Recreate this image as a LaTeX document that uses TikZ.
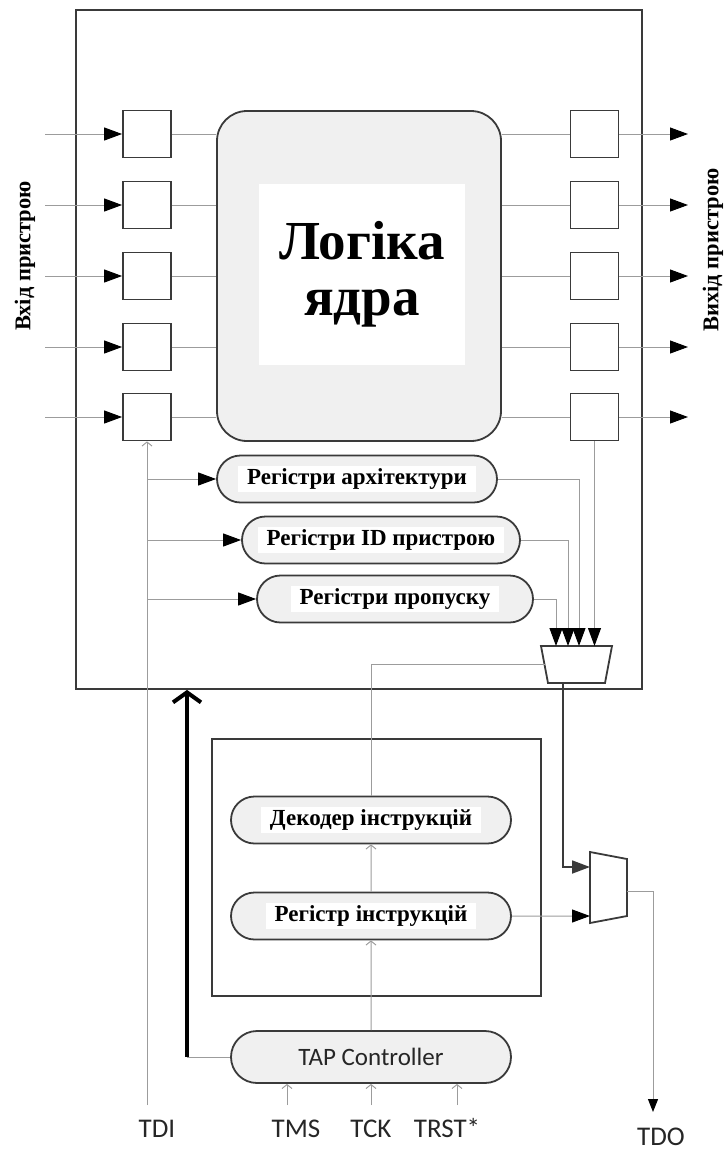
\documentclass[tikz,border=0pt]{standalone}
\usepackage{fontspec}
\setmainfont{Liberation Serif}
\newfontfamily\calfont{Carlito}
\usetikzlibrary{arrows.meta,shapes.misc}
\definecolor{edge}{HTML}{3A3A3A}
\definecolor{wiregray}{HTML}{9C9C9C}
\definecolor{fillgray}{HTML}{F0F0F0}
\setlength{\fboxsep}{3pt}
\newcommand{\whitelbl}[1]{\colorbox{white}{\hspace{6pt}#1\hspace{6pt}}}

\begin{document}
\begin{tikzpicture}[x=1pt, y=-1pt,
    box/.style={draw=edge, line width=1.8pt},
    cell/.style={box, fill=white, minimum width=48pt, minimum height=47pt, inner sep=0pt},
    pill/.style={box, rounded rectangle, fill=fillgray, minimum height=47pt, inner sep=0pt,
        font=\bfseries\fontsize{23}{26}\selectfont},
    wire/.style={draw=wiregray, line width=1pt},
    feed/.style={wire, -{Triangle[length=18pt, width=13pt, color=black]}},
    tick/.style={wire, -{Straight Barb[length=4pt, width=10pt]}},
    pin/.style={font=\calfont\fontsize{27}{30}\selectfont, text=black!85, anchor=base},
    side/.style={rotate=90, font=\bfseries\fontsize{22.5}{25}\selectfont}]
    \useasboundingbox (0,0) rectangle (724,1152);

    % Chip with core logic
    \node[box, minimum width=566pt, minimum height=679pt] (chip) at (359,349.5) {};
    \node[box, fill=fillgray, rounded corners=30pt, minimum width=284pt, minimum height=330pt] (core) at (359,276) {};
    \node[fill=white, minimum width=206pt, minimum height=181pt, align=center,
        font=\bfseries\fontsize{55}{56}\selectfont] (corename) at (362,274.5) {Логіка\\ядра};

    % Boundary cells
    \foreach \i/\y in {1/134,2/205,3/276,4/347,5/417}{
        \coordinate (src\i) at (45,\y);
        \coordinate (dst\i) at (688,\y);
        \node[cell] (in\i) at (147,\y) {};
        \node[cell] (out\i) at (594.5,\y) {};
        \draw[feed] (src\i) -- (in\i);
        \draw[wire] (in\i) -- (in\i -| core.west);
        \draw[wire] (core.east |- out\i) -- (out\i);
        \draw[feed] (out\i) -- (dst\i);
    }
    \node[side] (inlabel) at (25,256) {Вхід пристрою};
    \node[side] (outlabel) at (713,250) {Вихід пристрою};

    % Data registers
    \node[pill, minimum width=280pt] (archi) at (357,479) {\whitelbl{Регістри архітектури}};
    \node[pill, minimum width=278pt] (idreg) at (381,540) {\whitelbl{Регістри ID пристрою}};
    \node[pill, minimum width=276pt] (bypass) at (395,599) {\whitelbl{Регістри пропуску}};

    % Instruction part
    \node[box, minimum width=329pt, minimum height=257pt] (ctrl) at (376.5,867.5) {};
    \node[pill, minimum width=280pt] (decoder) at (371,820) {\whitelbl{Декодер інструкцій}};
    \node[pill, minimum width=280pt] (ireg) at (371,916) {\whitelbl{Регістр інструкцій}};
    \node[pill, minimum width=280pt, minimum height=52pt, text=black!85,
        font=\calfont\fontsize{25}{28}\selectfont] (tap) at (371,1057) {TAP Controller};

    % Multiplexers
    \draw[box] (541,646) -- (612,646) -- (605,683) -- (548,683) -- cycle;
    \coordinate (m1a) at (556,646);
    \coordinate (m1b) at (568,646);
    \coordinate (m1c) at (579,646);
    \coordinate (m1d) at (594.5,646);
    \coordinate (m1s) at (544.5,664);
    \coordinate (m1o) at (563,683);
    \draw[box] (590,852) -- (627,859) -- (627,916) -- (590,923) -- cycle;
    \coordinate (m2a) at (590,867);
    \coordinate (m2b) at (590,916);
    \coordinate (m2o) at (627,891);

    % Pins
    \coordinate (tdi) at (147,1105);
    \coordinate (tms) at (287,1105);
    \coordinate (tck) at (371,1105);
    \coordinate (trst) at (457,1105);
    \coordinate (tdo) at (653,1112);
    \coordinate (tapbus) at (187,1057);
    \node[pin] (tdilabel) at (157,1137) {TDI};
    \node[pin] (tmslabel) at (296,1137) {TMS};
    \node[pin] (tcklabel) at (371,1137) {TCK};
    \node[pin] (trstlabel) at (447,1137) {TRST*};
    \node[pin] (tdolabel) at (661,1145) {TDO};

    % Connections
    \draw[tick] (tdi) -- (in5);
    \draw[feed] (tdi |- archi) -- (archi);
    \draw[feed] (tdi |- idreg) -- (idreg);
    \draw[feed] (tdi |- bypass) -- (bypass);
    \draw[feed] (archi) -| (m1c);
    \draw[feed] (idreg) -| (m1b);
    \draw[feed] (bypass) -| (m1a);
    \draw[feed] (out5) -- (m1d);
    \draw[wire] (decoder) |- (m1s);
    \draw[draw=edge, line width=1.8pt, -{Triangle[length=18pt, width=13pt]}] (m1o) |- (m2a);
    \draw[feed] (ireg) -- (m2b);
    \draw[wire, -{Triangle[length=13pt, width=10pt, color=black]}] (m2o) -| (tdo);
    \draw[tick] (ireg) -- (decoder);
    \draw[tick] (tap) -- (ireg);
    \draw[tick] (tms) -- (tms |- tap.south);
    \draw[tick] (tck) -- (tap);
    \draw[tick] (trst) -- (trst |- tap.south);
    \draw[wire] (tap) -- (tapbus);
    \draw[line width=4pt, -{Straight Barb[length=10pt, width=28pt]}] (tapbus) -- (tapbus |- chip.south);
\end{tikzpicture}
\end{document}
